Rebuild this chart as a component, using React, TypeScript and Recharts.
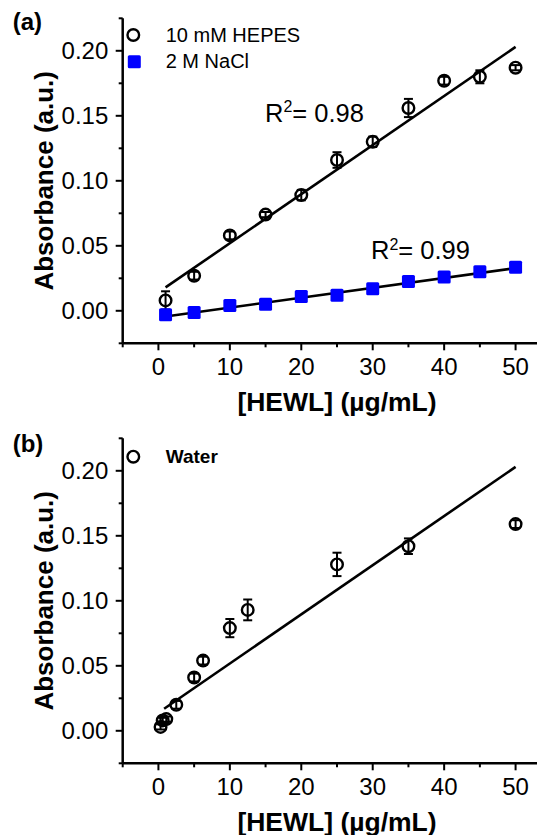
import { ComposedChart, Scatter, Line, XAxis, YAxis, ErrorBar } from 'recharts';

// panel (a)
const hepesX = [1, 5, 10, 15, 20, 25, 30, 35, 40, 45, 50];
const hepesY = [0.008, 0.027, 0.058, 0.074, 0.089, 0.116, 0.13, 0.156, 0.177, 0.18, 0.187];
const hepesErr = [0.007, 0.003, 0.003, 0.002, 0.004, 0.006, 0.004, 0.007, 0.003, 0.005, 0.002];
const naclY = [-0.003, -0.0013, 0.004, 0.005, 0.011, 0.012, 0.017, 0.0225, 0.026, 0.03, 0.0335];
const hepesFit = [{ x: 1, y: 0.018 }, { x: 50, y: 0.203 }];
const naclFit = [{ x: 1, y: -0.0044 }, { x: 50, y: 0.0328 }];

// panel (b)
const waterX = [0.3, 0.6, 1.1, 2.5, 5, 6.25, 10, 12.5, 25, 35, 50];
const waterY = [0.003, 0.008, 0.009, 0.02, 0.041, 0.054, 0.079, 0.093, 0.128, 0.142, 0.159];
const waterErr = [0.002, 0.002, 0.002, 0.003, 0.003, 0.003, 0.007, 0.008, 0.009, 0.006, 0.003];
const waterFit = [{ x: 0.8, y: 0.017 }, { x: 50, y: 0.203 }];

// axes
const xMajor = [0, 10, 20, 30, 40, 50];
const xMinor = [-5, 5, 15, 25, 35, 45, 55];
const yMajor = [0, 0.05, 0.1, 0.15, 0.2];
const yMinor = [-0.025, 0.025, 0.075, 0.125, 0.175, 0.225];
const xDomain = [-5, 55];
const yDomain = [-0.025, 0.225];

const hepes = hepesX.map((x, i) => ({ x, y: hepesY[i], err: hepesErr[i] }));
const nacl = hepesX.map((x, i) => ({ x, y: naclY[i] }));
const water = waterX.map((x, i) => ({ x, y: waterY[i], err: waterErr[i] }));

const FONT = '"Liberation Sans", Arial, sans-serif';
const BLUE = '#0000ff';

const xTicks = [...xMinor, ...xMajor].sort((a, b) => a - b);
const yTicks = [...yMinor, ...yMajor].sort((a, b) => a - b);

const XTick = (p: any) => {
  const v = p.payload.value;
  const major = xMajor.includes(v);
  return (
    <g>
      <line x1={p.x} x2={p.x} y1={p.y} y2={p.y + (major ? 7 : 4)} stroke="#000" strokeWidth={2} />
      {major && (
        <text x={p.x} y={p.y + 31.5} textAnchor="middle" fontSize={24} fontFamily={FONT} fill="#000">
          {v}
        </text>
      )}
    </g>
  );
};

const YTick = (p: any) => {
  const v = p.payload.value;
  const major = yMajor.some((m) => Math.abs(m - v) < 1e-9);
  return (
    <g>
      <line x1={p.x} x2={p.x - (major ? 7 : 4)} y1={p.y} y2={p.y} stroke="#000" strokeWidth={2} />
      {major && (
        <text x={p.x - 14.4} y={p.y} textAnchor="end" dominantBaseline="central" fontSize={24} fontFamily={FONT} fill="#000">
          {v.toFixed(2)}
        </text>
      )}
    </g>
  );
};

const Circle = (p: any) => <circle cx={p.cx} cy={p.cy} r={5.8} fill="none" stroke="#000" strokeWidth={2.4} />;
const Square = (p: any) => <rect x={p.cx - 6.5} y={p.cy - 6.5} width={13} height={13} rx={1.5} fill={BLUE} />;

const axisLine = { stroke: '#000', strokeWidth: 2.5 };

function Panel({ children }: { children: any }) {
  return (
    <ComposedChart width={560} height={420} margin={{ top: 10.3, right: 16.7, bottom: 0, left: 0 }}>
      <XAxis dataKey="x" type="number" domain={xDomain} ticks={xTicks} allowDataOverflow height={84.7}
        tickSize={0} tickMargin={0} tickLine={false} axisLine={axisLine} tick={XTick} interval={0} />
      <YAxis dataKey="y" type="number" domain={yDomain} ticks={yTicks} allowDataOverflow width={114.7}
        tickSize={0} tickMargin={0} tickLine={false} axisLine={axisLine} tick={YTick} interval={0} />
      <XAxis xAxisId="top" orientation="top" type="number" domain={xDomain} height={0} tick={false} tickLine={false} axisLine={axisLine} />
      <YAxis yAxisId="right" orientation="right" type="number" domain={yDomain} width={0} tick={false} tickLine={false} axisLine={axisLine} />
      {children}
    </ComposedChart>
  );
}

const t = { fontFamily: FONT, fill: '#000' };

export default function App() {
  return (
    <div style={{ position: 'relative', width: 537, height: 827, overflow: 'hidden', background: '#fff' }}>
      <div style={{ position: 'absolute', left: 0, top: 0 }}>
        <Panel>
          <Scatter data={hepes} dataKey="y" shape={Circle} isAnimationActive={false}>
            <ErrorBar dataKey="err" direction="y" width={4.5} stroke="#000" strokeWidth={2} />
          </Scatter>
          <Scatter data={nacl} dataKey="y" shape={Square} isAnimationActive={false} />
          <Line data={hepesFit} dataKey="y" type="linear" dot={false} stroke="#000" strokeWidth={2.6} isAnimationActive={false} />
          <Line data={naclFit} dataKey="y" type="linear" dot={false} stroke="#000" strokeWidth={2.6} isAnimationActive={false} />
        </Panel>
      </div>
      <div style={{ position: 'absolute', left: 0, top: 420 }}>
        <Panel>
          <Scatter data={water} dataKey="y" shape={Circle} isAnimationActive={false}>
            <ErrorBar dataKey="err" direction="y" width={4.5} stroke="#000" strokeWidth={2} />
          </Scatter>
          <Line data={waterFit} dataKey="y" type="linear" dot={false} stroke="#000" strokeWidth={2.6} isAnimationActive={false} />
        </Panel>
      </div>
      <svg width={537} height={827} style={{ position: 'absolute', left: 0, top: 0, pointerEvents: 'none' }}>
        {/* panel (a) */}
        <text x={4.7} y={22} fontSize={24} fontWeight="bold" {...t}>(a)</text>
        <circle cx={125.3} cy={27} r={5.8} fill="none" stroke="#000" strokeWidth={2.4} />
        <text x={157.7} y={33.7} fontSize={20} {...t}>10 mM HEPES</text>
        <rect x={119.8} y={47.2} width={13} height={13} rx={1.5} fill={BLUE} />
        <text x={157.7} y={60.3} fontSize={20} {...t}>2 M NaCl</text>
        <text x={257} y={113.7} fontSize={25.5} {...t}>R<tspan fontSize={16} dy={-9.5}>2</tspan><tspan dy={9.5}>= 0.98</tspan></text>
        <text x={363} y={251} fontSize={25.5} {...t}>R<tspan fontSize={16} dy={-9.5}>2</tspan><tspan dy={9.5}>= 0.99</tspan></text>
        <text transform="translate(35.5,172.8) rotate(-90)" textAnchor="middle" dominantBaseline="central" fontSize={26} fontWeight="bold" {...t}>Absorbance (a.u.)</text>
        <text x={329} y={402.7} textAnchor="middle" fontSize={26.5} fontWeight="bold" {...t}>[HEWL] (µg/mL)</text>
        {/* panel (b) */}
        <text x={4.7} y={444} fontSize={24} fontWeight="bold" {...t}>(b)</text>
        <circle cx={125.3} cy={448.7} r={5.8} fill="none" stroke="#000" strokeWidth={2.4} />
        <text x={157.7} y={455.3} fontSize={19} fontWeight="bold" {...t}>Water</text>
        <text transform="translate(35.5,592.8) rotate(-90)" textAnchor="middle" dominantBaseline="central" fontSize={26} fontWeight="bold" {...t}>Absorbance (a.u.)</text>
        <text x={329} y={822.7} textAnchor="middle" fontSize={26.5} fontWeight="bold" {...t}>[HEWL] (µg/mL)</text>
      </svg>
    </div>
  );
}
